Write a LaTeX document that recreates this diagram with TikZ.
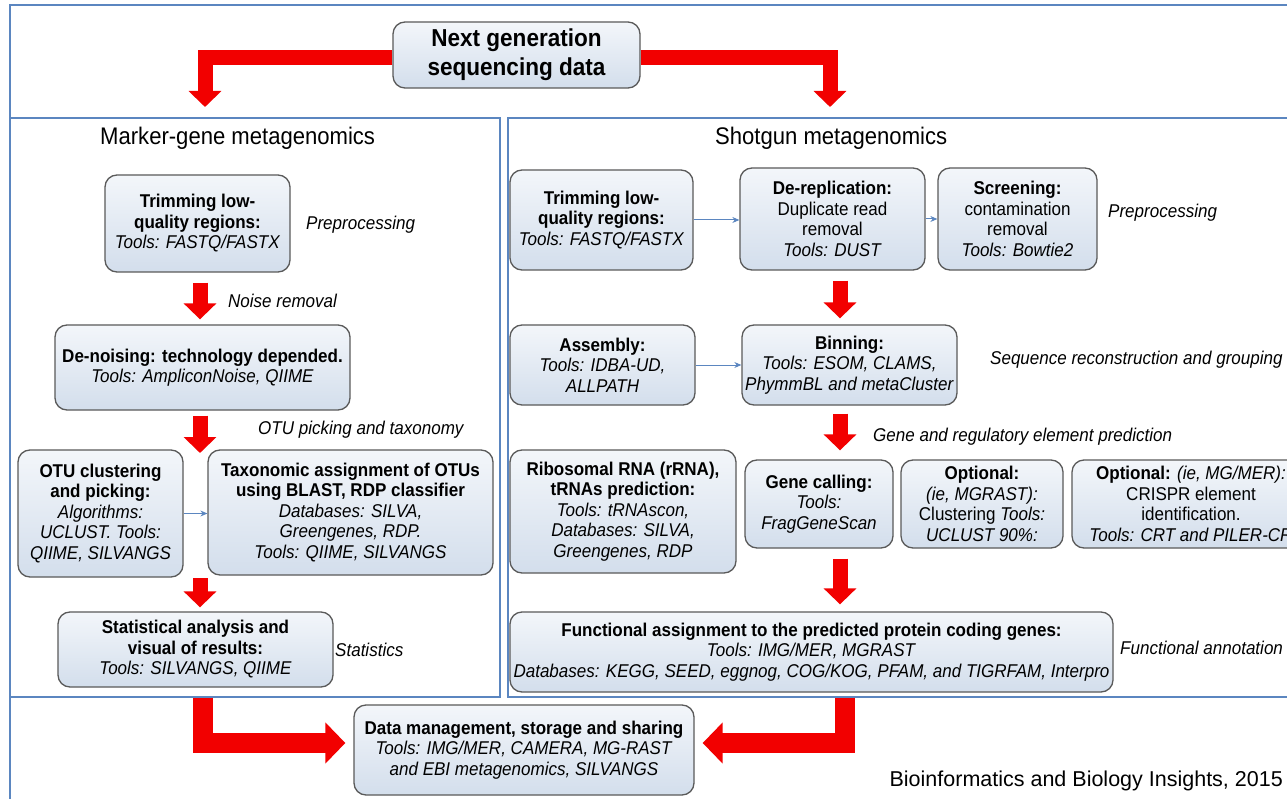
\documentclass[tikz,border=0pt]{standalone}
\usepackage{fontspec}
\setmainfont{Liberation Sans}[FakeStretch=0.92]
\newfontfamily\citefont{Liberation Sans}
\usetikzlibrary{arrows.meta}

\definecolor{frameblue}{HTML}{5B86C0}
\definecolor{boxedge}{HTML}{5A5A5A}
\definecolor{boxtop}{HTML}{F3F6FA}
\definecolor{boxbot}{HTML}{D3DEEC}
\definecolor{flowred}{HTML}{F20000}
\definecolor{linkblue}{HTML}{5B86C0}

\newcommand\flowboxsize{\fontsize{18.5}{20.5}\selectfont}
\newcommand\headsize{\fontsize{24}{28}\selectfont}

\tikzset{
  procbox/.style={draw=boxedge, line width=1.3pt, rounded corners=12pt,
    top color=boxtop, bottom color=boxbot, align=center, inner sep=2pt,
    font=\flowboxsize},
  titlebox/.style={procbox, font=\fontsize{24.5}{29}\selectfont\bfseries},
  secframe/.style={draw=frameblue, line width=1.2pt, inner sep=0pt},
  sechead/.style={anchor=west, inner sep=0pt, font=\headsize},
  steplabel/.style={anchor=west, inner sep=0pt, font=\flowboxsize\itshape},
  redflow/.style={draw=flowred, line width=15pt, line join=miter,
    -{Triangle[length=16pt,width=32pt]}},
  bigflow/.style={draw=flowred, line width=20pt, line join=miter,
    -{Triangle[length=20pt,width=40pt]}},
  thinflow/.style={draw=linkblue, line width=1pt,
    -{Stealth[length=7pt,width=6pt]}}
}

\begin{document}
\begin{tikzpicture}[x=1pt, y=-1pt]
\useasboundingbox (0,0) rectangle (1287,799);
\clip (0,0) rectangle (1287,799);
\fill[white] (0,0) rectangle (1287,799);

% outer frame (left and top edges)
\draw[draw=frameblue, line width=1.2pt] (10,799) -- (10,5) -- (1300,5);

% two section frames
\node[secframe, minimum width=490pt, minimum height=579pt] (secL) at (255,407.5) {};
\node[secframe, minimum width=800pt, minimum height=579pt] (secR) at (908,407.5) {};
\node[sechead] (hL) at (100,138) {Marker-gene metagenomics};
\node[sechead] (hR) at (715,138) {Shotgun metagenomics};

% input data
\node[titlebox, minimum width=247pt, minimum height=66pt] (ngs) at (516.5,55)
  {Next generation\\sequencing data};

% marker-gene branch
\node[procbox, minimum width=185pt, minimum height=97pt] (a1) at (197.5,223.5)
  {\textbf{Trimming low-}\\\textbf{quality regions:}\\\textit{Tools: FASTQ/FASTX}};
\node[procbox, minimum width=295pt, minimum height=85pt] (a2) at (202.5,367.5)
  {\textbf{De-noising: technology depended.}\\\textit{Tools: AmpliconNoise, QIIME}};
\node[procbox, minimum width=165pt, minimum height=127pt] (a3) at (100.5,513.5)
  {\textbf{OTU clustering}\\\textbf{and picking:}\\\textit{Algorithms:}\\\textit{UCLUST. Tools:}\\\textit{QIIME, SILVANGS}};
\node[procbox, minimum width=285pt, minimum height=125pt] (a4) at (350.5,512.5)
  {\textbf{Taxonomic assignment of OTUs}\\\textbf{using BLAST, RDP classifier}\\\textit{Databases: SILVA,}\\\textit{Greengenes, RDP.}\\\textit{Tools: QIIME, SILVANGS}};
\node[procbox, minimum width=275pt, minimum height=75pt] (a5) at (195.5,649.5)
  {\textbf{Statistical analysis and}\\\textbf{visual of results:}\\\textit{Tools: SILVANGS, QIIME}};

\node[steplabel] (la1) at (306,225) {Preprocessing};
\node[steplabel] (la2) at (228,301) {Noise removal};
\node[steplabel] (la3) at (258,430) {OTU picking and taxonomy};
\node[steplabel] (la4) at (335,650) {Statistics};

% shotgun branch
\node[procbox, minimum width=183pt, minimum height=100pt] (b1) at (601.5,220)
  {\textbf{Trimming low-}\\\textbf{quality regions:}\\\textit{Tools: FASTQ/FASTX}};
\node[procbox, minimum width=185pt, minimum height=102pt] (b2) at (832.5,219)
  {\textbf{De-replication:}\\Duplicate read\\removal\\\textit{Tools: DUST}};
\node[procbox, minimum width=159pt, minimum height=102pt] (b3) at (1017.5,219)
  {\textbf{Screening:}\\contamination\\removal\\\textit{Tools: Bowtie2}};
\node[procbox, minimum width=185pt, minimum height=80pt] (b4) at (602.5,365)
  {\textbf{Assembly:}\\\textit{Tools: IDBA-UD,}\\\textit{ALLPATH}};
\node[procbox, minimum width=215pt, minimum height=80pt] (b5) at (849.5,365)
  {\textbf{Binning:}\\\textit{Tools: ESOM, CLAMS,}\\\textit{PhymmBL and metaCluster}};
\node[procbox, minimum width=226pt, minimum height=123pt] (b6) at (623,511.5)
  {\textbf{Ribosomal RNA (rRNA),}\\\textbf{tRNAs prediction:}\\\textit{Tools: tRNAscon,}\\\textit{Databases: SILVA,}\\\textit{Greengenes, RDP}};
\node[procbox, minimum width=148pt, minimum height=88pt] (b7) at (819,504)
  {\textbf{Gene calling:}\\\textit{Tools:}\\\textit{FragGeneScan}};
\node[procbox, minimum width=162pt, minimum height=88pt] (b8) at (982,504)
  {\textbf{Optional:}\\\textit{(ie, MGRAST):}\\Clustering \textit{Tools:}\\\textit{UCLUST 90\%:}};
\node[procbox, minimum width=238pt, minimum height=88pt] (b9) at (1191,504)
  {\textbf{Optional:} \textit{(ie, MG/MER):}\\CRISPR element\\identification.\\\textit{Tools: CRT and PILER-CR}};
\node[procbox, minimum width=603pt, minimum height=80pt] (b10) at (811.5,652)
  {\textbf{Functional assignment to the predicted protein coding genes:}\\\textit{Tools: IMG/MER, MGRAST}\\\textit{Databases: KEGG, SEED, eggnog, COG/KOG, PFAM, and TIGRFAM, Interpro}};

\node[steplabel] (lb1) at (1108,213) {Preprocessing};
\node[steplabel] (lb2) at (990,360) {Sequence reconstruction and grouping};
\node[steplabel] (lb3) at (873,437) {Gene and regulatory element prediction};
\node[steplabel] (lb4) at (1120,648) {Functional annotation};

% shared output
\node[procbox, minimum width=340pt, minimum height=90pt] (c) at (524,750)
  {\textbf{Data management, storage and sharing}\\\textit{Tools: IMG/MER, CAMERA, MG-RAST}\\\textit{and EBI metagenomics, SILVANGS}};

\node[anchor=base east, inner sep=0pt, font=\citefont\fontsize{21.5}{24}\selectfont] (cite) at (1283,786)
  {Bioinformatics and Biology Insights, 2015};

% spines and free arrow ends
\coordinate (lspine) at (200,0);
\coordinate (rspine) at (840,0);
\coordinate (mkhead) at (205,107);
\coordinate (sghead) at (830,107);
\coordinate (otuin) at (200,453);
\coordinate (otuout) at (200,578);
\coordinate (ldown) at (203,0);
\coordinate (rdown) at (845,0);

% red flow arrows
\draw[redflow] ([yshift=-3pt]ngs.west) -| (mkhead);
\draw[redflow] ([yshift=-3pt]ngs.east) -| (sghead);
\draw[redflow, shorten <=10pt, shorten >=5pt] (a1.south -| lspine) -- (a2.north -| lspine);
\draw[redflow, shorten <=5pt] (a2.south -| lspine) -- (otuin);
\draw[redflow, shorten >=4pt] (otuout) -- (a5.north -| lspine);
\draw[redflow, shorten <=10pt, shorten >=6pt] (b2.south -| rspine) -- (b5.north -| rspine);
\draw[redflow, shorten <=8pt, shorten >=9pt] (b5.south -| rspine) -- (b7.north -| rspine);
\draw[redflow, shorten <=10pt, shorten >=7pt] (b7.south -| rspine) -- (b10.north -| rspine);
\draw[bigflow, shorten >=8pt] (secL.south -| ldown) |- ([yshift=7pt]c.west);
\draw[bigflow, shorten >=8pt] (secR.south -| rdown) |- ([yshift=7pt]c.east);

% thin links between neighbouring steps
\draw[thinflow] (a3.east) -- (a3.east -| a4.west);
\draw[thinflow] (b1.east) -- (b1.east -| b2.west);
\draw[thinflow] (b2.east) -- (b2.east -| b3.west);
\draw[thinflow] (b4.east) -- (b4.east -| b5.west);
\end{tikzpicture}
\end{document}
